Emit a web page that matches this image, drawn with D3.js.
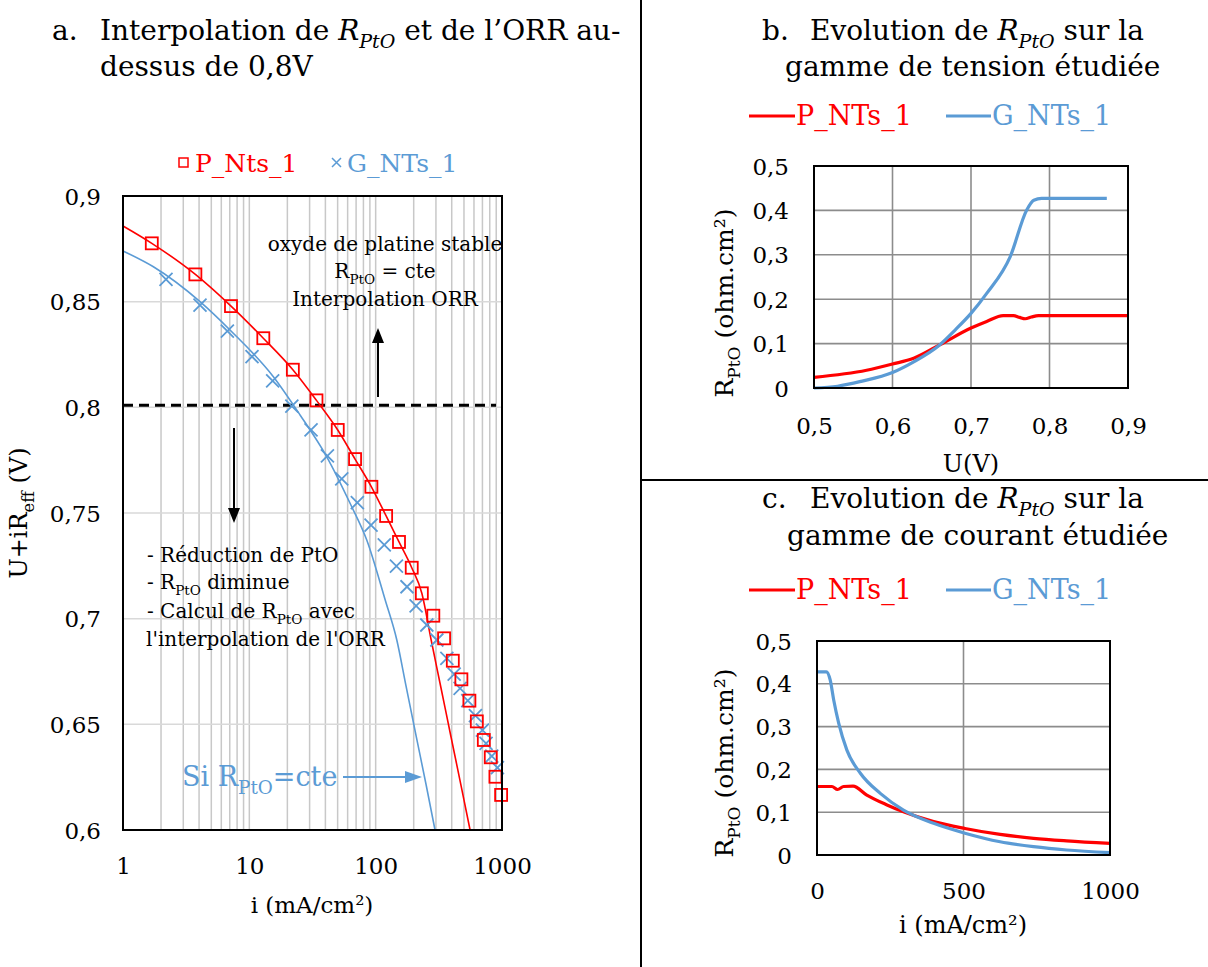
<!DOCTYPE html>
<html><head><meta charset="utf-8">
<script src="https://cdn.jsdelivr.net/npm/d3@7"></script>
<style>
html,body{margin:0;padding:0;background:#fff;}
svg{display:block;font-family:"DejaVu Serif",serif;}
</style></head>
<body>
<svg id="c" width="1208" height="967"></svg>
<script>
// ---------- DATA ----------
// Panel a : polarisation points (i in mA/cm², U+iReff in V)
const aI_P = [1.69,3.74,7.16,12.9,22.1,34.0,50.1,68.7,92.5,121,153,193,232,286,348,408,477,552,632,718,815,887,984];
const aU_P = [0.8776,0.8629,0.8479,0.8327,0.8178,0.8033,0.7893,0.7755,0.7624,0.7486,0.7363,0.7241,0.712,0.7014,0.6907,0.6801,0.6713,0.6612,0.6514,0.6426,0.6344,0.6252,0.6166];
const aI_G = [2.19,4.07,6.70,10.5,15.3,21.7,30.8,41.5,53.9,71.6,91.9,117,146,177,209,254,305,366,418,466,536,616,700,748,830,920];
const aU_G = [0.8606,0.8484,0.8361,0.824,0.8125,0.8006,0.7893,0.777,0.7661,0.7549,0.7443,0.7349,0.7249,0.7151,0.706,0.697,0.6899,0.6812,0.6738,0.667,0.6612,0.6541,0.6473,0.641,0.635,0.6295];
// ORR interpolation curves (R_PtO = cte)
const fitI_P = [1,1.69,3.74,7.16,12.9,22.1,34,50.1,68.7,92.5,121,153,193,232,275,329,395,475,559];
const fitU_P = [0.8858,0.8776,0.8629,0.8479,0.8327,0.8178,0.8033,0.7893,0.7755,0.7624,0.7486,0.7363,0.7241,0.712,0.6899,0.6672,0.644,0.6208,0.6];
const fitI_G = [1,1.74,4.07,7.03,15.5,25.2,41,62.7,85,119,147,174,209,251,295];
const fitU_G = [0.874,0.8665,0.85,0.8366,0.8145,0.7964,0.7766,0.7546,0.7372,0.7088,0.6899,0.6681,0.6445,0.6213,0.6];
const aThreshold = 0.801;
const aXTicks = [1,10,100,1000];
const aYTicks = [0.6,0.65,0.7,0.75,0.8,0.85,0.9];

// Panel b : R_PtO vs U
const bU_P = [0.5,0.567,0.6,0.627,0.66,0.7,0.72,0.741,0.754,0.762,0.769,0.777,0.786,0.9];
const bR_P = [0.024,0.040,0.054,0.067,0.097,0.135,0.150,0.163,0.163,0.159,0.156,0.160,0.163,0.163];
const bU_G = [0.5,0.53,0.56,0.6,0.627,0.66,0.68,0.7,0.72,0.75,0.771,0.78,0.79,0.873];
const bR_G = [0,0.004,0.015,0.035,0.059,0.097,0.131,0.168,0.213,0.296,0.401,0.423,0.427,0.427];
const bXTicks = [0.5,0.6,0.7,0.8,0.9];
const bYTicks = [0,0.1,0.2,0.3,0.4,0.5];

// Panel c : R_PtO vs i
const cI_P = [0,51,70,91,123,170,239,295,398,505,625,739,852,1000];
const cR_P = [0.16,0.16,0.153,0.16,0.161,0.14,0.117,0.101,0.078,0.062,0.048,0.039,0.033,0.027];
const cI_G = [0,32,45,57,74,102,148,216,295,398,505,625,739,852,1000];
const cR_G = [0.428,0.428,0.409,0.362,0.308,0.245,0.191,0.144,0.105,0.074,0.051,0.031,0.0195,0.0117,0.0055];
const cXTicks = [0,500,1000];
const cYTicks = [0,0.1,0.2,0.3,0.4,0.5];

const RED = "#ff0000", BLUE = "#5b9bd5";
const svg = d3.select("#c");
const comma = v => String(+v.toFixed(3)).replace(".", ",");

function rich(sel, x, y, parts, size, attrs = {}) {
  const t = sel.append("text").attr("x", x).attr("y", y).attr("font-size", size);
  Object.entries(attrs).forEach(([k, v]) => t.attr(k, v));
  let shift = 0;
  parts.forEach(p => {
    const ts = t.append("tspan").text(p.t);
    const want = p.sub ? size * 0.28 : 0;
    if (want !== shift) { ts.attr("dy", want - shift); shift = want; }
    if (p.sub) ts.attr("font-size", size * 0.68);
    if (p.it) ts.attr("font-style", "italic");
  });
  return t;
}

// separators
svg.append("line").attr("x1", 641).attr("x2", 641).attr("y1", 0).attr("y2", 967).attr("stroke", "#000").attr("stroke-width", 2);
svg.append("line").attr("x1", 641).attr("x2", 1208).attr("y1", 480).attr("y2", 480).attr("stroke", "#000").attr("stroke-width", 2);

// ================= PANEL A =================
{
  const x = d3.scaleLog().domain([1, 1000]).range([123, 502]);
  const y = d3.scaleLinear().domain([0.6, 0.9]).range([830, 196]);
  const g = svg.append("g");
  // titles
  rich(g, 52, 40, [{t: "a."}], 28);
  rich(g, 100, 40, [{t: "Interpolation de "}, {t: "R", it: 1}, {t: "PtO", it: 1, sub: 1}, {t: " et de l’ORR au-"}], 28);
  rich(g, 100, 76, [{t: "dessus de 0,8V"}], 28);
  // legend
  g.append("rect").attr("x", 179).attr("y", 158).attr("width", 9).attr("height", 9).attr("fill", "none").attr("stroke", RED).attr("stroke-width", 1.5);
  g.append("text").attr("x", 195).attr("y", 172).attr("font-size", 25).attr("fill", RED).text("P_Nts_1");
  g.append("path").attr("d", "M332,158l9,9M341,158l-9,9").attr("stroke", BLUE).attr("stroke-width", 1.5);
  g.append("text").attr("x", 347).attr("y", 172).attr("font-size", 25).attr("fill", BLUE).text("G_NTs_1");

  // grid
  const minor = [];
  for (let d = 1; d <= 100; d *= 10) for (let k = 1; k <= 9; k++) minor.push(d * k);
  g.append("g").selectAll("line").data(minor.filter(v => v > 1)).join("line")
    .attr("x1", d => x(d)).attr("x2", d => x(d)).attr("y1", 196).attr("y2", 830)
    .attr("stroke", "#c8c8c8").attr("stroke-width", 1.5);
  g.append("g").selectAll("line").data(aYTicks.slice(1, -1)).join("line")
    .attr("x1", 123).attr("x2", 502).attr("y1", d => y(d)).attr("y2", d => y(d))
    .attr("stroke", "#d9d9d9").attr("stroke-width", 1.5);

  // axes
  const ay = g.append("g").attr("transform", "translate(123,0)")
    .call(d3.axisLeft(y).tickValues(aYTicks).tickSize(0).tickPadding(22).tickFormat(comma));
  const ax = g.append("g").attr("transform", "translate(0,830)")
    .call(d3.axisBottom(x).tickValues(aXTicks).tickSize(0).tickPadding(28).tickFormat(d3.format("d")));
  [ay, ax].forEach(a => { a.select(".domain").remove(); a.selectAll("text").attr("font-size", 23).attr("font-family", "DejaVu Serif").attr("fill", "#000"); });
  ay.selectAll("text").attr("dy", "0.35em");

  // threshold
  g.append("line").attr("x1", 123).attr("x2", 496).attr("y1", y(aThreshold)).attr("y2", y(aThreshold))
    .attr("stroke", "#000").attr("stroke-width", 3).attr("stroke-dasharray", "10,6");

  // fits
  const ln = d3.line().x(d => x(d[0])).y(d => y(d[1])).curve(d3.curveMonotoneX);
  g.append("path").attr("d", ln(d3.zip(fitI_P, fitU_P))).attr("fill", "none").attr("stroke", RED).attr("stroke-width", 1.6);
  g.append("path").attr("d", ln(d3.zip(fitI_G, fitU_G))).attr("fill", "none").attr("stroke", BLUE).attr("stroke-width", 1.6);

  // markers
  g.append("g").selectAll("path").data(d3.zip(aI_G, aU_G)).join("path")
    .attr("d", d => { const cx = x(d[0]), cy = y(d[1]); return `M${cx-6.5},${cy-6.5}L${cx+6.5},${cy+6.5}M${cx+6.5},${cy-6.5}L${cx-6.5},${cy+6.5}`; })
    .attr("stroke", BLUE).attr("stroke-width", 1.8);
  g.append("g").selectAll("rect").data(d3.zip(aI_P, aU_P)).join("rect")
    .attr("x", d => x(d[0]) - 6).attr("y", d => y(d[1]) - 6).attr("width", 12).attr("height", 12)
    .attr("fill", "none").attr("stroke", RED).attr("stroke-width", 1.8);

  // frame
  g.append("rect").attr("x", 123).attr("y", 196).attr("width", 379).attr("height", 634).attr("fill", "none").attr("stroke", "#000").attr("stroke-width", 2);

  // annotations
  rich(g, 385, 251, [{t: "oxyde de platine stable"}], 20, {"text-anchor": "middle"});
  rich(g, 385, 278, [{t: "R"}, {t: "PtO", sub: 1}, {t: " = cte"}], 20, {"text-anchor": "middle"});
  rich(g, 385, 306, [{t: "Interpolation ORR"}], 20, {"text-anchor": "middle"});
  g.append("line").attr("x1", 378).attr("x2", 378).attr("y1", 397).attr("y2", 340).attr("stroke", "#000").attr("stroke-width", 2);
  g.append("path").attr("d", "M378,328L372,343L384,343Z").attr("fill", "#000");
  g.append("line").attr("x1", 234).attr("x2", 234).attr("y1", 428).attr("y2", 511).attr("stroke", "#000").attr("stroke-width", 2);
  g.append("path").attr("d", "M234,523L228,508L240,508Z").attr("fill", "#000");
  rich(g, 147, 562, [{t: "- Réduction de PtO"}], 20);
  rich(g, 147, 589, [{t: "- R"}, {t: "PtO", sub: 1}, {t: " diminue"}], 20);
  rich(g, 147, 618, [{t: "- Calcul de R"}, {t: "PtO", sub: 1}, {t: " avec"}], 20);
  rich(g, 146, 646, [{t: "l'interpolation de l'ORR"}], 20);
  rich(g, 182, 786, [{t: "Si R"}, {t: "PtO", sub: 1}, {t: "=cte"}], 27, {fill: BLUE});
  g.append("line").attr("x1", 343).attr("x2", 408).attr("y1", 777).attr("y2", 777).attr("stroke", BLUE).attr("stroke-width", 2);
  g.append("path").attr("d", "M422,777L405,771L405,783Z").attr("fill", BLUE);

  // axis titles
  rich(g, 312, 913, [{t: "i (mA/cm²)"}], 23, {"text-anchor": "middle"});
  rich(g, 0, 0, [{t: "U+iR"}, {t: "eff", sub: 1}, {t: " (V)"}], 24, {"text-anchor": "middle", transform: "translate(27,513) rotate(-90)"});
}

// ================= PANEL B & C helper =================
function panel(opts) {
  const {x, y, xTicks, yTicks, gridX, gridY, series, xfmt} = opts;
  const g = svg.append("g");
  const [x0, x1] = x.range(), [y0, y1] = y.range();
  g.append("g").selectAll("line").data(gridX).join("line")
    .attr("x1", d => x(d)).attr("x2", d => x(d)).attr("y1", y1).attr("y2", y0)
    .attr("stroke", "#8c8c8c").attr("stroke-width", 1.6);
  g.append("g").selectAll("line").data(gridY).join("line")
    .attr("x1", x0).attr("x2", x1).attr("y1", d => y(d)).attr("y2", d => y(d))
    .attr("stroke", "#8c8c8c").attr("stroke-width", 1.6);
  const ay = g.append("g").attr("transform", `translate(${x0},0)`)
    .call(d3.axisLeft(y).tickValues(yTicks).tickSize(0).tickPadding(opts.ypad).tickFormat(comma));
  const ax = g.append("g").attr("transform", `translate(0,${y0})`)
    .call(d3.axisBottom(x).tickValues(xTicks).tickSize(0).tickPadding(opts.xpad).tickFormat(xfmt));
  [ay, ax].forEach(a => { a.select(".domain").remove(); a.selectAll("text").attr("font-size", 23).attr("font-family", "DejaVu Serif").attr("fill", "#000"); });
  ay.selectAll("text").attr("dy", "0.35em");
  const ln = d3.line().x(d => x(d[0])).y(d => y(d[1])).curve(d3.curveMonotoneX);
  series.forEach(s => g.append("path").attr("d", ln(s.data)).attr("fill", "none").attr("stroke", s.color).attr("stroke-width", 3.2).attr("stroke-linejoin", "round"));
  g.append("rect").attr("x", x0).attr("y", y1).attr("width", x1 - x0).attr("height", y0 - y1).attr("fill", "none").attr("stroke", "#000").attr("stroke-width", 2);
  return g;
}
function legend(yy) {
  const g = svg.append("g");
  g.append("line").attr("x1", 749).attr("x2", 795).attr("y1", yy).attr("y2", yy).attr("stroke", RED).attr("stroke-width", 3.2);
  g.append("text").attr("x", 796).attr("y", yy + 9).attr("font-size", 27).attr("fill", RED).text("P_NTs_1");
  g.append("line").attr("x1", 946).attr("x2", 991).attr("y1", yy).attr("y2", yy).attr("stroke", BLUE).attr("stroke-width", 3.2);
  g.append("text").attr("x", 992).attr("y", yy + 9).attr("font-size", 27).attr("fill", BLUE).text("G_NTs_1");
}

// ================= PANEL B =================
{
  rich(svg, 762, 40, [{t: "b."}], 28);
  rich(svg, 810, 40, [{t: "Evolution de "}, {t: "R", it: 1}, {t: "PtO", it: 1, sub: 1}, {t: " sur la"}], 28);
  rich(svg, 785, 76, [{t: "gamme de tension étudiée"}], 28);
  legend(116);
  const x = d3.scaleLinear().domain([0.5, 0.9]).range([814, 1128]);
  const y = d3.scaleLinear().domain([0, 0.5]).range([388, 166]);
  panel({x, y, xTicks: bXTicks, yTicks: bYTicks, gridX: bXTicks.slice(1, -1), gridY: bYTicks.slice(1, -1), xfmt: comma, ypad: 25, xpad: 30,
    series: [{data: d3.zip(bU_P, bR_P), color: RED}, {data: d3.zip(bU_G, bR_G), color: BLUE}]});
  rich(svg, 971, 472, [{t: "U(V)"}], 24, {"text-anchor": "middle"});
  rich(svg, 0, 0, [{t: "R"}, {t: "PtO", sub: 1}, {t: " (ohm.cm²)"}], 25, {"text-anchor": "middle", transform: "translate(733,303) rotate(-90)"});
}

// ================= PANEL C =================
{
  rich(svg, 762, 508, [{t: "c."}], 28);
  rich(svg, 810, 508, [{t: "Evolution de "}, {t: "R", it: 1}, {t: "PtO", it: 1, sub: 1}, {t: " sur la"}], 28);
  rich(svg, 787, 545, [{t: "gamme de courant étudiée"}], 28);
  legend(590);
  const x = d3.scaleLinear().domain([0, 1000]).range([817, 1110]);
  const y = d3.scaleLinear().domain([0, 0.5]).range([855, 641]);
  panel({x, y, xTicks: cXTicks, yTicks: cYTicks, gridX: [500], gridY: cYTicks.slice(1, -1), xfmt: d3.format("d"), ypad: 25, xpad: 28,
    series: [{data: d3.zip(cI_P, cR_P), color: RED}, {data: d3.zip(cI_G, cR_G), color: BLUE}]});
  rich(svg, 963, 933, [{t: "i (mA/cm²)"}], 24, {"text-anchor": "middle"});
  rich(svg, 0, 0, [{t: "R"}, {t: "PtO", sub: 1}, {t: " (ohm.cm²)"}], 25, {"text-anchor": "middle", transform: "translate(733,763) rotate(-90)"});
}
</script>
</body></html>
